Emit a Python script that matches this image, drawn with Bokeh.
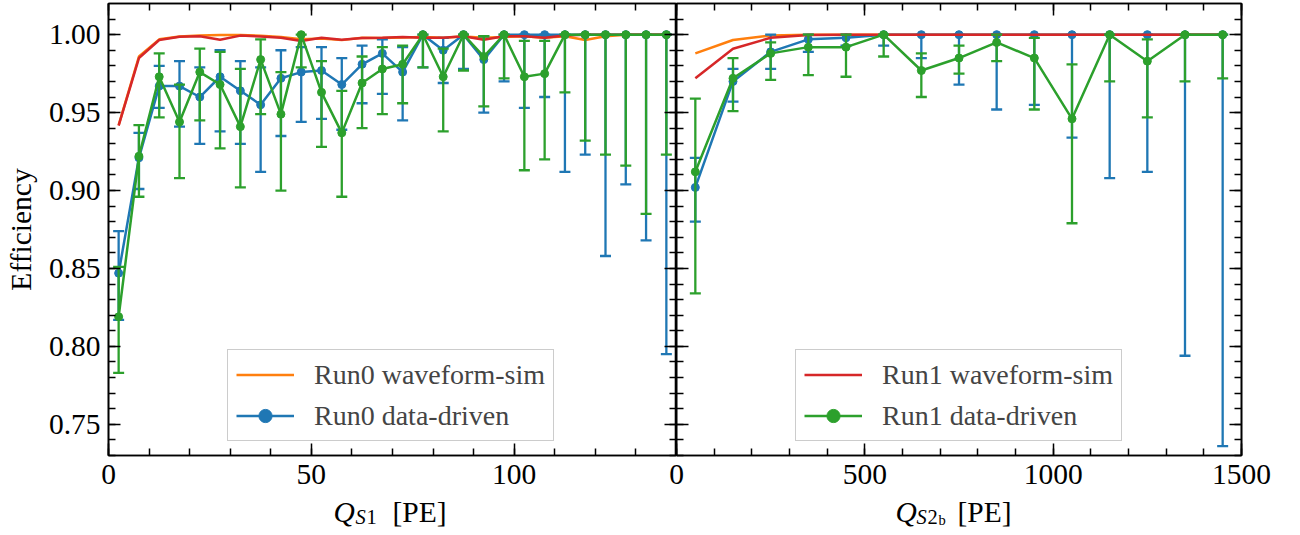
from bokeh.plotting import figure
from bokeh.models import (ColumnDataSource, FixedTicker, LinearAxis, Legend, LegendItem,
                          Label, Range1d, NumeralTickFormatter)
from bokeh.layouts import row, column
from bokeh.embed import file_html
from bokeh.resources import INLINE

# ---------------- data ----------------
s1_x = [2.5, 7.5, 12.5, 17.5, 22.5, 27.5, 32.5, 37.5, 42.5, 47.5, 52.5, 57.5, 62.5, 67.5,
        72.5, 77.5, 82.5, 87.5, 92.5, 97.5, 102.5, 107.5, 112.5, 117.5, 122.5, 127.5, 132.5, 137.5]

run0_sim_s1 = [0.942, 0.986, 0.997, 0.9988, 0.9995, 0.9998, 0.9998, 0.9993, 0.9985, 0.997,
               0.9975, 0.9965, 0.998, 0.9978, 0.9982, 0.9985, 0.998, 0.9988, 0.998, 0.9985,
               0.999, 0.998, 0.999, 0.9966, 0.999, 1.0, 1.0, 1.0]
run1_sim_s1 = [0.9416, 0.985, 0.9966, 0.9987, 0.999, 0.9968, 0.9994, 0.9989, 0.998, 0.996,
               0.998, 0.9968, 0.9978, 0.998, 0.9985, 0.998, 0.998, 0.999, 0.9968, 0.999,
               0.999, 0.998, 0.9995, 1.0, 1.0, 1.0, 1.0, 1.0]

run0_data_s1 = [0.847, 0.921, 0.967, 0.967, 0.960, 0.973, 0.964, 0.955, 0.972, 0.976,
                0.977, 0.968, 0.981, 0.988, 0.976, 1.000, 0.990, 1.000, 0.984, 1.000,
                1.000, 1.000, 1.000, 1.000, 1.000, 1.000, 1.000, 1.000]
run0_data_s1_lo = [0.817, 0.901, 0.953, 0.941, 0.930, 0.938, 0.930, 0.912, 0.935, 0.944,
                   0.946, 0.939, 0.956, 0.962, 0.945, 0.979, 0.969, 0.978, 0.950, 0.970,
                   0.953, 0.960, 0.912, 0.923, 0.858, 0.904, 0.868, 0.795]
run0_data_s1_hi = [0.874, 0.937, 0.980, 0.983, 0.979, 0.990, 0.983, 0.979, 0.990, 0.992,
                   0.992, 0.985, 0.993, 0.997, 0.992, 1.000, 0.998, 1.000, 0.999, 1.000,
                   1.000, 1.000, 1.000, 1.000, 1.000, 1.000, 1.000, 1.000]

run1_data_s1 = [0.819, 0.922, 0.973, 0.944, 0.976, 0.968, 0.941, 0.984, 0.949, 1.000,
                0.963, 0.937, 0.969, 0.978, 0.981, 1.000, 0.973, 1.000, 0.986, 1.000,
                0.973, 0.975, 1.000, 1.000, 1.000, 1.000, 1.000, 1.000]
run1_data_s1_lo = [0.783, 0.896, 0.947, 0.908, 0.945, 0.927, 0.902, 0.949, 0.900, 0.979,
                   0.928, 0.896, 0.940, 0.949, 0.956, 0.979, 0.938, 0.977, 0.954, 0.972,
                   0.913, 0.920, 0.963, 0.932, 0.923, 0.916, 0.885, 0.923]
run1_data_s1_hi = [0.851, 0.942, 0.988, 0.968, 0.991, 0.989, 0.978, 0.997, 0.976, 1.000,
                   0.983, 0.964, 0.986, 0.992, 0.993, 1.000, 0.991, 1.000, 0.999, 1.000,
                   0.996, 0.996, 1.000, 1.000, 1.000, 1.000, 1.000, 1.000]

s2_x = [50, 150, 250, 350, 450, 550, 650, 750, 850, 950, 1050, 1150, 1250, 1350, 1450]

run0_sim_s2 = [0.988, 0.9966, 0.9995, 1.0, 1.0, 1.0, 1.0, 1.0, 1.0, 1.0, 1.0, 1.0, 1.0, 1.0, 1.0]
run1_sim_s2 = [0.972, 0.991, 0.998, 0.9998, 1.0, 1.0, 1.0, 1.0, 1.0, 1.0, 1.0, 1.0, 1.0, 1.0, 1.0]

run0_data_s2 = [0.902, 0.970, 0.989, 0.997, 0.998, 1.000, 1.000, 1.000, 1.000, 1.000,
                1.000, 1.000, 1.000, 1.000, 1.000]
run0_data_s2_lo = [0.880, 0.957, 0.978, 0.989, 0.993, 0.993, 0.985, 0.968, 0.952, 0.955,
                   0.934, 0.908, 0.912, 0.794, 0.736]
run0_data_s2_hi = [0.921, 0.978, 1.000, 1.000, 1.000, 1.000, 1.000, 1.000, 1.000, 1.000,
                   1.000, 1.000, 1.000, 1.000, 1.000]

run1_data_s2 = [0.912, 0.972, 0.988, 0.992, 0.992, 1.000, 0.977, 0.985, 0.995, 0.985,
                0.946, 1.000, 0.983, 1.000, 1.000]
run1_data_s2_lo = [0.834, 0.951, 0.971, 0.974, 0.973, 0.986, 0.960, 0.975, 0.983, 0.952,
                   0.879, 0.970, 0.947, 0.970, 0.972]
run1_data_s2_hi = [0.959, 0.985, 0.995, 1.000, 1.000, 1.000, 0.988, 0.993, 1.000, 0.998,
                   0.981, 1.000, 0.997, 1.000, 1.000]

y_major = [0.75, 0.80, 0.85, 0.90, 0.95, 1.00]
y_minor = [round(0.73 + 0.01 * i, 2) for i in range(29)]
s1_major = [0, 50, 100]
s1_minor = list(range(0, 141, 10))
s2_major = [0, 500, 1000, 1500]
s2_minor = list(range(0, 1501, 100))

# ---------------- style ----------------
FONT = "Liberation Serif"
TICK_FS = "29.5px"
C_ORANGE, C_BLUE, C_GREEN, C_RED = "#ff7f0e", "#1f77b4", "#2ca02c", "#d62728"
Y_RANGE = (0.73, 1.02)
FRAME_TOP = 3
FRAME_BOTTOM = 455
H = 500
LW = 2.5


def style_axis(ax, labels=True):
    ax.major_tick_in = 12
    ax.major_tick_out = 0
    ax.minor_tick_in = 7
    ax.minor_tick_out = 0
    ax.major_tick_line_width = 1.5
    ax.minor_tick_line_width = 1.5
    ax.major_tick_line_color = "black"
    ax.minor_tick_line_color = "black"
    ax.axis_line_width = 1.6
    ax.axis_line_color = "black"
    if labels:
        ax.major_label_text_font = FONT
        ax.major_label_text_font_size = TICK_FS
        ax.major_label_text_color = "black"
    else:
        ax.major_label_text_font_size = "0px"
        ax.major_label_standoff = 0
        ax.major_label_text_alpha = 0


def make_fig(x_end, width, bl, br, xmaj, xmin):
    p = figure(width=width, height=H, x_range=Range1d(0, x_end), y_range=Range1d(*Y_RANGE),
               output_backend="svg", toolbar_location=None,
               min_border_left=bl, min_border_right=br, min_border_top=FRAME_TOP,
               min_border_bottom=H - FRAME_BOTTOM)
    p.xgrid.visible = False
    p.ygrid.visible = False
    p.outline_line_color = "black"
    p.outline_line_width = 1.6
    p.background_fill_color = "white"
    p.xaxis.ticker = FixedTicker(ticks=xmaj, minor_ticks=xmin)
    p.yaxis.ticker = FixedTicker(ticks=y_major, minor_ticks=y_minor)
    style_axis(p.xaxis[0], True)
    p.xaxis.major_label_standoff = 9
    top = LinearAxis(ticker=FixedTicker(ticks=xmaj, minor_ticks=xmin))
    style_axis(top, False)
    p.add_layout(top, "above")
    right = LinearAxis(ticker=FixedTicker(ticks=y_major, minor_ticks=y_minor))
    style_axis(right, False)
    p.add_layout(right, "right")
    return p


def add_series(p, x, y, lo, hi, color):
    src = ColumnDataSource(dict(x=x, y=y, lo=lo, hi=hi))
    p.segment(x0="x", y0="lo", x1="x", y1="hi", source=src, line_color=color, line_width=2.3)
    p.scatter(x="x", y="lo", source=src, marker="dash", size=11, line_color=color, line_width=2.3)
    p.scatter(x="x", y="hi", source=src, marker="dash", size=11, line_color=color, line_width=2.3)
    rl = p.line(x="x", y="y", source=src, line_color=color, line_width=LW)
    rp = p.scatter(x="x", y="y", source=src, marker="circle", size=8, line_color=color, fill_color=color)
    return [rl, rp]


def add_sim(p, x, y, color):
    src = ColumnDataSource(dict(x=x, y=y))
    return p.line(x="x", y="y", source=src, line_color=color, line_width=LW)


def make_legend(items):
    return Legend(items=items, location=(119, 14), margin=0, padding=8, spacing=8,
                  glyph_width=58, glyph_height=33, label_height=33, label_standoff=20,
                  label_text_font=FONT, label_text_font_size="28px",
                  border_line_color="#cccccc", border_line_width=1.5, border_line_alpha=1.0,
                  background_fill_color="white", background_fill_alpha=0.8)


# ---------------- left panel ----------------
p1 = make_fig(140, 108 + 568, 108, 0, s1_major, s1_minor)
style_axis(p1.yaxis[0], True)
p1.yaxis[0].formatter = NumeralTickFormatter(format="0.00")
p1.yaxis[0].major_label_standoff = 8
p1.yaxis[0].axis_label = "Efficiency"
p1.yaxis[0].axis_label_text_font = FONT
p1.yaxis[0].axis_label_text_font_size = TICK_FS
p1.yaxis[0].axis_label_text_font_style = "normal"
p1.yaxis[0].axis_label_text_color = "black"
p1.yaxis[0].axis_label_standoff = 9

o1 = add_sim(p1, s1_x, run0_sim_s1, C_ORANGE)
b1 = add_series(p1, s1_x, run0_data_s1, run0_data_s1_lo, run0_data_s1_hi, C_BLUE)
r1 = add_sim(p1, s1_x, run1_sim_s1, C_RED)
g1 = add_series(p1, s1_x, run1_data_s1, run1_data_s1_lo, run1_data_s1_hi, C_GREEN)
p1.add_layout(make_legend([LegendItem(label="Run0 waveform-sim", renderers=[o1]),
                           LegendItem(label="Run0 data-driven", renderers=b1)]))

# ---------------- right panel ----------------
M = 30
p2 = make_fig(1500, M + 565 + 35, M, 35, s2_major, s2_minor)
p2.margin = (0, 0, 0, -M)
p2.border_fill_color = None
p2.border_fill_alpha = 0
style_axis(p2.yaxis[0], False)

o2 = add_sim(p2, s2_x, run0_sim_s2, C_ORANGE)
b2 = add_series(p2, s2_x, run0_data_s2, run0_data_s2_lo, run0_data_s2_hi, C_BLUE)
r2 = add_sim(p2, s2_x, run1_sim_s2, C_RED)
g2 = add_series(p2, s2_x, run1_data_s2, run1_data_s2_lo, run1_data_s2_hi, C_GREEN)
p2.add_layout(make_legend([LegendItem(label="Run1 waveform-sim", renderers=[r2]),
                           LegendItem(label="Run1 data-driven", renderers=g2)]))

# ---------------- x-axis titles (italic symbol with subscripts) ----------------
LH = 60
OVERLAP = 26
xl = figure(width=1290, height=LH, x_range=Range1d(0, 1), y_range=Range1d(0, 1),
            output_backend="svg", toolbar_location=None, min_border=0,
            x_axis_location=None, y_axis_location=None)
xl.xgrid.visible = False
xl.ygrid.visible = False
xl.outline_line_color = None
xl.background_fill_color = None
xl.background_fill_alpha = 0
xl.border_fill_color = None
xl.border_fill_alpha = 0
xl.margin = (-OVERLAP, 0, 0, 0)


def add_text(p, x, y, text, size, style="normal"):
    p.add_layout(Label(x=x, y=y, x_units="screen", y_units="screen", text=text,
                       text_font=FONT, text_font_size=size, text_font_style=style,
                       text_color="black", text_baseline="alphabetic", text_align="left"))


BASE = 23  # baseline of the main text, from the bottom of this strip
add_text(xl, 333, BASE, "Q", TICK_FS, "italic")
add_text(xl, 355, BASE - 5, "S", "20.5px", "italic")
add_text(xl, 366, BASE - 5, "1", "20.5px")
add_text(xl, 392, BASE, "[PE]", TICK_FS)

add_text(xl, 895, BASE, "Q", TICK_FS, "italic")
add_text(xl, 916, BASE - 5, "S", "20.5px", "italic")
add_text(xl, 927, BASE - 5, "2", "20.5px")
add_text(xl, 938, BASE - 8, "b", "14.5px")
add_text(xl, 957, BASE, "[PE]", TICK_FS)

layout = column(row(p1, p2), xl)
open("out.html", "w").write(file_html(layout, INLINE))
